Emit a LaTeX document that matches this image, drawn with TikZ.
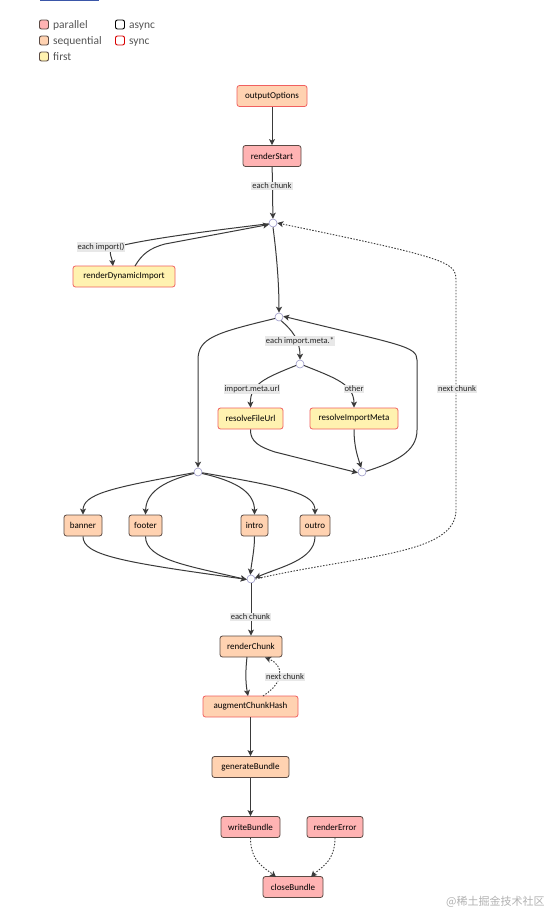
\documentclass[tikz,border=0pt]{standalone}
\usepackage{fontspec}
\setmainfont{Carlito}
\newfontfamily\cjkwm{Noto Sans CJK SC}
\usetikzlibrary{arrows.meta}
\definecolor{parfill}{HTML}{FFB3B3}
\definecolor{seqfill}{HTML}{FFD2B1}
\definecolor{firstfill}{HTML}{FFF2B0}
\definecolor{asyncdraw}{HTML}{5A4A44}
\definecolor{syncdraw}{HTML}{F06060}
\definecolor{edgecol}{HTML}{3A3A3A}
\definecolor{lblfill}{HTML}{E8E8E8}
\definecolor{juncdraw}{HTML}{9A98C8}
\definecolor{legtext}{HTML}{555555}
\definecolor{topbar}{HTML}{3A56A8}
\tikzset{
  hook/.style={rectangle, rounded corners=2.5pt, line width=0.8pt, minimum height=21pt, inner sep=2pt, font=\fontsize{9}{10}\selectfont, text=black},
  par/.style={hook, fill=parfill},
  seq/.style={hook, fill=seqfill},
  fst/.style={hook, fill=firstfill},
  asy/.style={draw=asyncdraw},
  syn/.style={draw=syncdraw},
  junc/.style={circle, draw=juncdraw, fill=white, line width=0.6pt, minimum size=8pt, inner sep=0pt},
  lbl/.style={fill=lblfill, inner sep=1pt, font=\fontsize{8.5}{9}\selectfont, text=black!85},
  edge/.style={draw=edgecol, line width=1pt, -{Stealth[length=6pt,width=6pt,inset=1.5pt]}},
  dedge/.style={edge, dash pattern=on 1.5pt off 1.5pt, line width=0.9pt},
  legbox/.style={rectangle, rounded corners=2pt, line width=0.9pt, minimum width=9pt, minimum height=9pt, inner sep=0pt},
  legtxt/.style={anchor=base west, font=\fontsize{11.5}{12}\selectfont, text=legtext, inner sep=0pt},
}
\begin{document}
\begin{tikzpicture}[x=1pt,y=-1pt]
\useasboundingbox (0,0) rectangle (555,913);
\fill[white] (0,0) rectangle (555,913);
\fill[topbar] (40,0) rectangle (99,1.2);

% legend
\node[legbox, fill=parfill, draw=asyncdraw] (lp) at (44,24.5) {};
\node[legtxt] (lpt) at (53,28) {parallel};
\node[legbox, fill=seqfill, draw=asyncdraw] (ls) at (44,40.5) {};
\node[legtxt] (lst) at (53,44) {sequential};
\node[legbox, fill=firstfill, draw=asyncdraw] (lf) at (44,56.5) {};
\node[legtxt] (lft) at (53,60) {first};
\node[legbox, fill=white, draw=black] (la) at (120,24.5) {};
\node[legtxt] (lat) at (129,28) {async};
\node[legbox, fill=white, draw=red!85!black] (lsy) at (120,40.5) {};
\node[legtxt] (lsyt) at (129,44) {sync};

% nodes
\node[seq, syn, minimum width=70pt] (oo) at (272,96) {outputOptions};
\node[par, asy, minimum width=58pt] (rs) at (272,156) {renderStart};
\node[junc] (J1) at (273,223) {};
\node[fst, syn, minimum width=102pt] (rdi) at (124,276.5) {renderDynamicImport};
\node[junc] (J2) at (279,317) {};
\node[junc] (J4) at (300,364) {};
\node[fst, syn, minimum width=65pt] (rfu) at (250.5,418.5) {resolveFileUrl};
\node[fst, syn, minimum width=88pt] (rim) at (354,418.5) {resolveImportMeta};
\node[junc] (J5) at (362,472) {};
\node[junc] (J3) at (198,472) {};
\node[seq, asy, minimum width=38pt] (ban) at (83,525.5) {banner};
\node[seq, asy, minimum width=33pt] (foo) at (145.5,525.5) {footer};
\node[seq, asy, minimum width=27pt] (intro) at (254.5,525.5) {intro};
\node[seq, asy, minimum width=30pt] (outro) at (315,525.5) {outro};
\node[junc] (J6) at (251,579) {};
\node[seq, asy, minimum width=62pt] (rc) at (251,646.5) {renderChunk};
\node[seq, syn, minimum width=95pt] (ach) at (250.5,706.5) {augmentChunkHash};
\node[seq, asy, minimum width=77pt] (gb) at (250.5,767) {generateBundle};
\node[par, asy, minimum width=59pt] (wb) at (250.5,827) {writeBundle};
\node[par, asy, minimum width=56pt] (re) at (335,827) {renderError};
\node[par, asy, minimum width=60pt] (cb) at (293,887) {closeBundle};

% edges
\draw[edge] (oo) -- (rs);
\draw[edge] (rs) -- (J1);
\node[lbl] (l1) at (272,186) {each chunk};

\draw[edge] (J1.190) .. controls (200,232) and (140,240) .. (112,248) .. controls (108,252) and (112,258) .. (113,266);
\node[lbl] (l2) at (101,247) {each import()};
\draw[edge] (135,266) .. controls (142,254) and (150,248) .. (165,244) -- (J1.200);

\draw[edge] (J1.south) .. controls (276,250) and (279,280) .. (J2.north);
\draw[edge] (J2.200) .. controls (215,333) and (198,338) .. (198,360) -- (J3.north);
\draw[edge] (J2.300) .. controls (292,330) and (300,340) .. (J4.north);
\node[lbl] (l3) at (300,341) {each import.meta.*};
\draw[edge] (J4.200) .. controls (265,378) and (250,384) .. (rfu.north);
\node[lbl] (l4) at (252,389) {import.meta.url};
\draw[edge] (J4.340) .. controls (335,378) and (354,384) .. (rim.north);
\node[lbl] (l5) at (354,389) {other};
\draw[edge] (rfu.south) .. controls (250,442) and (260,447) .. (275,452) -- (J5.190);
\draw[edge] (rim.south) .. controls (354,445) and (357,455) .. (J5.100);
\draw[edge] (J5.10) .. controls (395,462) and (417,452) .. (417,430) -- (417,360) .. controls (417,346) and (400,345) .. (J2.10);

\draw[edge] (J3.190) .. controls (110,488) and (83,494) .. (ban.north);
\draw[edge] (J3.200) .. controls (160,482) and (146,494) .. (foo.north);
\draw[edge] (J3.340) .. controls (240,482) and (254.5,494) .. (intro.north);
\draw[edge] (J3.350) .. controls (290,488) and (315,494) .. (outro.north);
\draw[edge] (ban.south) .. controls (83,555) and (120,562) .. (J6.185);
\draw[edge] (foo.south) .. controls (145.5,560) and (190,566) .. (J6.190);
\draw[edge] (intro.south) .. controls (254.5,550) and (252,560) .. (J6.100);
\draw[edge] (outro.south) .. controls (315,560) and (280,567) .. (J6.15);

\draw[dedge] (J6.east) .. controls (360,555) and (456,555) .. (456,510) -- (456,280) .. controls (456,262) and (447,258) .. (J1.east);
\node[lbl] (l6) at (457,389) {next chunk};

\draw[edge] (J6.south) -- (rc.north);
\node[lbl] (l7) at (250.5,617) {each chunk};
\draw[edge] (247,657) .. controls (245,675) and (246,685) .. (248,696);
\draw[dedge] (263,696) .. controls (285,682) and (284,665) .. (265,657.5);
\node[lbl] (l8) at (285,677) {next chunk};
\draw[edge] (ach) -- (gb);
\draw[edge] (gb) -- (wb);
\draw[dedge] (wb.south) .. controls (250.5,862) and (265,868) .. (276,877);
\draw[dedge] (re.south) .. controls (335,862) and (320,868) .. (311,877);

\node[anchor=west, text=black!30, font=\cjkwm\fontsize{11}{12}\selectfont, inner sep=0pt] (wm) at (446,902) {@稀土掘金技术社区};
\end{tikzpicture}
\end{document}
